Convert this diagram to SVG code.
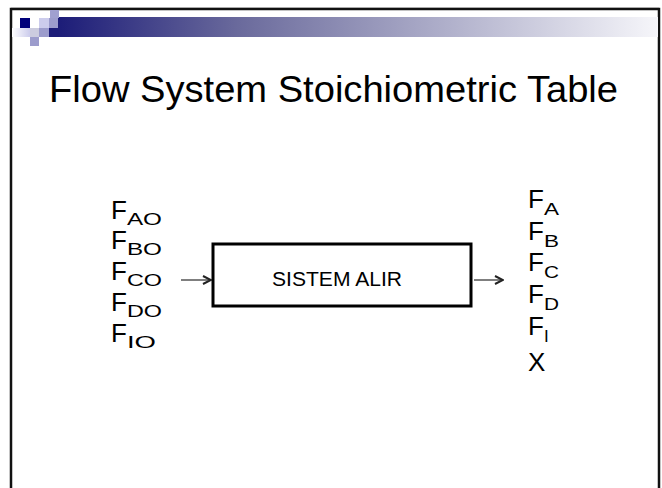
<svg xmlns="http://www.w3.org/2000/svg" width="662" height="488" viewBox="0 0 662 488">
<defs>
<linearGradient id="band" x1="0" y1="0" x2="1" y2="0">
<stop offset="0" stop-color="#1c1c78"/>
<stop offset="0.3" stop-color="#6a6a9c"/>
<stop offset="1" stop-color="#f6f6fa"/>
</linearGradient>
<linearGradient id="fade" x1="0" y1="0" x2="1" y2="0">
<stop offset="0" stop-color="#ffffff"/>
<stop offset="1" stop-color="#ccccec"/>
</linearGradient>
<marker id="ah" viewBox="0 0 10 10" refX="9" refY="5" markerWidth="10" markerHeight="10" markerUnits="userSpaceOnUse" orient="auto">
<path d="M1,1 L9,5 L1,9" fill="none" stroke="#222" stroke-width="2"/>
</marker>
<style>
.t{font-family:"Liberation Sans",Arial,sans-serif;fill:#000}
.f{font-size:26px}
.s{font-size:17px}
.c{stroke:#555;stroke-width:1.5;fill:none}
</style>
</defs>
<rect width="662" height="488" fill="#fff"/>
<!-- slide border -->
<path d="M11,488 V9 H659 V488" fill="none" stroke="#111" stroke-width="2.5"/>
<path d="M11,7.5 H659" stroke="#aaa" stroke-width="1"/>
<!-- decoration -->
<rect x="58" y="17" width="600" height="20" fill="url(#band)"/>
<rect x="12" y="28" width="18" height="9" fill="url(#fade)"/>
<rect x="50" y="10" width="9" height="8" fill="#a0a0d0"/>
<rect x="20" y="18" width="10" height="10" fill="#00007a"/>
<rect x="39" y="18" width="10" height="10" fill="#ccccec"/>
<rect x="49" y="18" width="9" height="10" fill="#9c9ccc"/>
<rect x="30" y="28" width="9" height="9" fill="#ccccdf"/>
<rect x="39" y="28" width="10" height="9" fill="#9c9ccc"/>
<rect x="49" y="28" width="9" height="9" fill="#1c1c78"/>
<rect x="30" y="37" width="9" height="9" fill="#9c9ccc"/>
<!-- title -->
<text class="t" x="49" y="102" font-size="36" textLength="569" lengthAdjust="spacingAndGlyphs">Flow System Stoichiometric Table</text>
<!-- connectors -->
<g id="connectors">
<line class="c" x1="181" y1="280" x2="211" y2="280" marker-end="url(#ah)"/>
<line class="c" x1="474" y1="280" x2="503" y2="280" marker-end="url(#ah)"/>
</g>
<g id="node-sistem">
<rect x="213" y="244" width="258" height="62" fill="#fff" stroke="#000" stroke-width="3"/>
<text class="t" x="272" y="286" font-size="20" textLength="130" lengthAdjust="spacingAndGlyphs">SISTEM ALIR</text>
</g>
<g id="inputs">
<text class="t f" x="111" y="219">F<tspan class="s" dy="6" textLength="35" lengthAdjust="spacingAndGlyphs">AO</tspan></text>
<text class="t f" x="111" y="249">F<tspan class="s" dy="6" textLength="35" lengthAdjust="spacingAndGlyphs">BO</tspan></text>
<text class="t f" x="111" y="280">F<tspan class="s" dy="6" textLength="35" lengthAdjust="spacingAndGlyphs">CO</tspan></text>
<text class="t f" x="111" y="311">F<tspan class="s" dy="6" textLength="35" lengthAdjust="spacingAndGlyphs">DO</tspan></text>
<text class="t f" x="111" y="342">F<tspan class="s" dy="6" textLength="29" lengthAdjust="spacingAndGlyphs">IO</tspan></text>
</g>
<g id="outputs">
<text class="t f" x="528" y="208">F<tspan class="s" dy="7" textLength="15" lengthAdjust="spacingAndGlyphs">A</tspan></text>
<text class="t f" x="528" y="240">F<tspan class="s" dy="7" textLength="15" lengthAdjust="spacingAndGlyphs">B</tspan></text>
<text class="t f" x="528" y="271">F<tspan class="s" dy="7" textLength="15" lengthAdjust="spacingAndGlyphs">C</tspan></text>
<text class="t f" x="528" y="303">F<tspan class="s" dy="7" textLength="15" lengthAdjust="spacingAndGlyphs">D</tspan></text>
<text class="t f" x="528" y="335">F<tspan class="s" dy="7">I</tspan></text>
<text class="t f" x="528" y="371">X</text>
</g>
</svg>
